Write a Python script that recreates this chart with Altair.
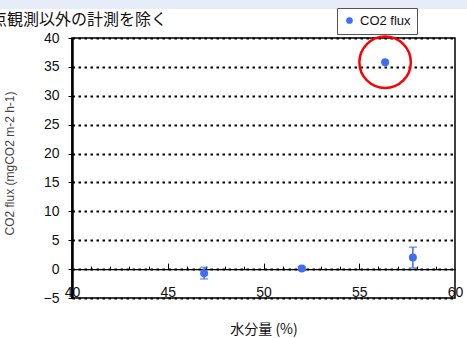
import altair as alt
import pandas as pd

# Soil moisture (%) vs CO2 flux, with standard-error bars
moisture = [46.9, 52.0, 56.35, 57.8]
flux = [-0.7, 0.1, 35.8, 2.0]
flux_err = [1.0, 0.3, 0.0, 1.8]
series = ["CO2 flux"] * 4

# point singled out with a red ring
highlight_moisture = [56.35]
highlight_flux = [35.8]

y_ticks = [-5, 0, 5, 10, 15, 20, 25, 30, 35, 40]
x_labels = [40, 45, 50, 55, 60]
x_minor_ticks = list(range(41, 60))

title_text = "定点観測以外の計測を除く"
x_title = "水分量 (%)"
y_title = "CO2 flux (mgCO2 m-2 h-1)"

W, H = 383, 260
BLUE = "#3d6ef5"
JP_FONT = "Noto Sans CJK JP"
NUM_FONT = "Liberation Sans"

df = pd.DataFrame({"moisture": moisture, "flux": flux, "err": flux_err, "series": series})
df["lo"] = df["flux"] - df["err"]
df["hi"] = df["flux"] + df["err"]
err_df = df[df["err"] > 0]
hl_df = pd.DataFrame({"moisture": highlight_moisture, "flux": highlight_flux})

xs = alt.Scale(domain=[40, 60], nice=False, zero=False)
ys = alt.Scale(domain=[-5, 40], nice=False, zero=False)

# pixel row of flux = 0, used to put the x axis line on zero
zero_px = (40 - 0) / 45 * H

one_row = pd.DataFrame({"k": [0]})

band = alt.Chart(one_row).mark_rect(color="#e6edf8").encode(
    x=alt.value(-72), x2=alt.value(W + 12), y=alt.value(-38), y2=alt.value(-29)
)

title = alt.Chart(one_row).mark_text(
    text=title_text, align="left", baseline="alphabetic",
    font=JP_FONT, fontSize=16, color="#111"
).encode(x=alt.value(-97), y=alt.value(-13))

# y axis with dotted gridlines every 5
y_axis = alt.Chart(pd.DataFrame({"t": y_ticks})).mark_point(opacity=0).encode(
    x=alt.value(0),
    y=alt.Y("t:Q", scale=ys, axis=alt.Axis(
        values=y_ticks, grid=True, gridColor="black", gridDash=[2.5, 3.5], gridWidth=1.8,
        domainColor="black", domainWidth=2.5, tickColor="black", tickSize=4,
        labelPadding=9, labelFont=NUM_FONT, labelFontSize=14, labelColor="#111",
        title=y_title, titleFont=NUM_FONT, titleFontSize=12, titleFontWeight="normal",
        titleColor="#444", titleX=16 - 72, titleY=125,
    )),
)

# zero line with inside ticks (minor every 1, major every 5)
zero_axis = alt.Chart(pd.DataFrame({"v": x_minor_ticks})).mark_point(opacity=0).encode(
    x=alt.X("v:Q", scale=xs, axis=alt.Axis(
        orient="top", offset=-zero_px, values=x_minor_ticks, labels=False, grid=False,
        title=None, domainColor="black", domainWidth=1.3, tickColor="black",
        tickWidth=1,
        tickSize={"condition": {"test": "datum.value % 5 === 0", "value": 6}, "value": 3},
    )),
    y=alt.value(0),
)

err_rules = alt.Chart(err_df).mark_rule(color=BLUE, strokeWidth=1.5).encode(
    x=alt.X("moisture:Q", scale=xs, axis=None),
    y=alt.Y("lo:Q", scale=ys, axis=None),
    y2="hi:Q",
)
cap_hi = alt.Chart(err_df).mark_tick(color=BLUE, orient="horizontal", size=8, thickness=1.5).encode(
    x=alt.X("moisture:Q", scale=xs, axis=None),
    y=alt.Y("hi:Q", scale=ys, axis=None),
)
cap_lo = alt.Chart(err_df).mark_tick(color=BLUE, orient="horizontal", size=8, thickness=1.5).encode(
    x=alt.X("moisture:Q", scale=xs, axis=None),
    y=alt.Y("lo:Q", scale=ys, axis=None),
)

points = alt.Chart(df).mark_circle(size=64, opacity=1).encode(
    x=alt.X("moisture:Q", scale=xs, axis=alt.Axis(
        orient="bottom", values=x_labels, domain=False, ticks=False, grid=False,
        labelPadding=-13, labelFlush=False, labelOverlap=False,
        labelFont=NUM_FONT, labelFontSize=14, labelColor="#111",
        title=x_title, titleFont=JP_FONT, titleFontSize=14, titleFontWeight="normal",
        titleColor="#111", titlePadding=23,
    )),
    y=alt.Y("flux:Q", scale=ys, axis=None),
    color=alt.Color("series:N", scale=alt.Scale(range=[BLUE]), legend=alt.Legend(
        title=None, orient="none", legendX=265, legendY=-30,
        fillColor="white", strokeColor="#555", padding=6,
        symbolType="circle", symbolSize=45, symbolStrokeWidth=0,
        labelFont=NUM_FONT, labelFontSize=13, labelColor="#111",
    )),
)

ring = alt.Chart(hl_df).mark_point(
    shape="circle", size=2650, filled=False, color="red", strokeWidth=2.5, opacity=1
).encode(
    x=alt.X("moisture:Q", scale=xs, axis=None),
    y=alt.Y("flux:Q", scale=ys, axis=None),
)

chart = alt.layer(
    band, title, y_axis, zero_axis, err_rules, cap_hi, cap_lo, points, ring
).resolve_axis(x="independent", y="independent").properties(
    width=W, height=H,
    autosize=alt.AutoSizeParams(type="none"),
    padding={"left": 72, "top": 38, "right": 12, "bottom": 40},
    background="white",
).configure_view(stroke="black", strokeWidth=1.5)

chart.save("out.html", embed_options={"renderer": "svg", "actions": False})
